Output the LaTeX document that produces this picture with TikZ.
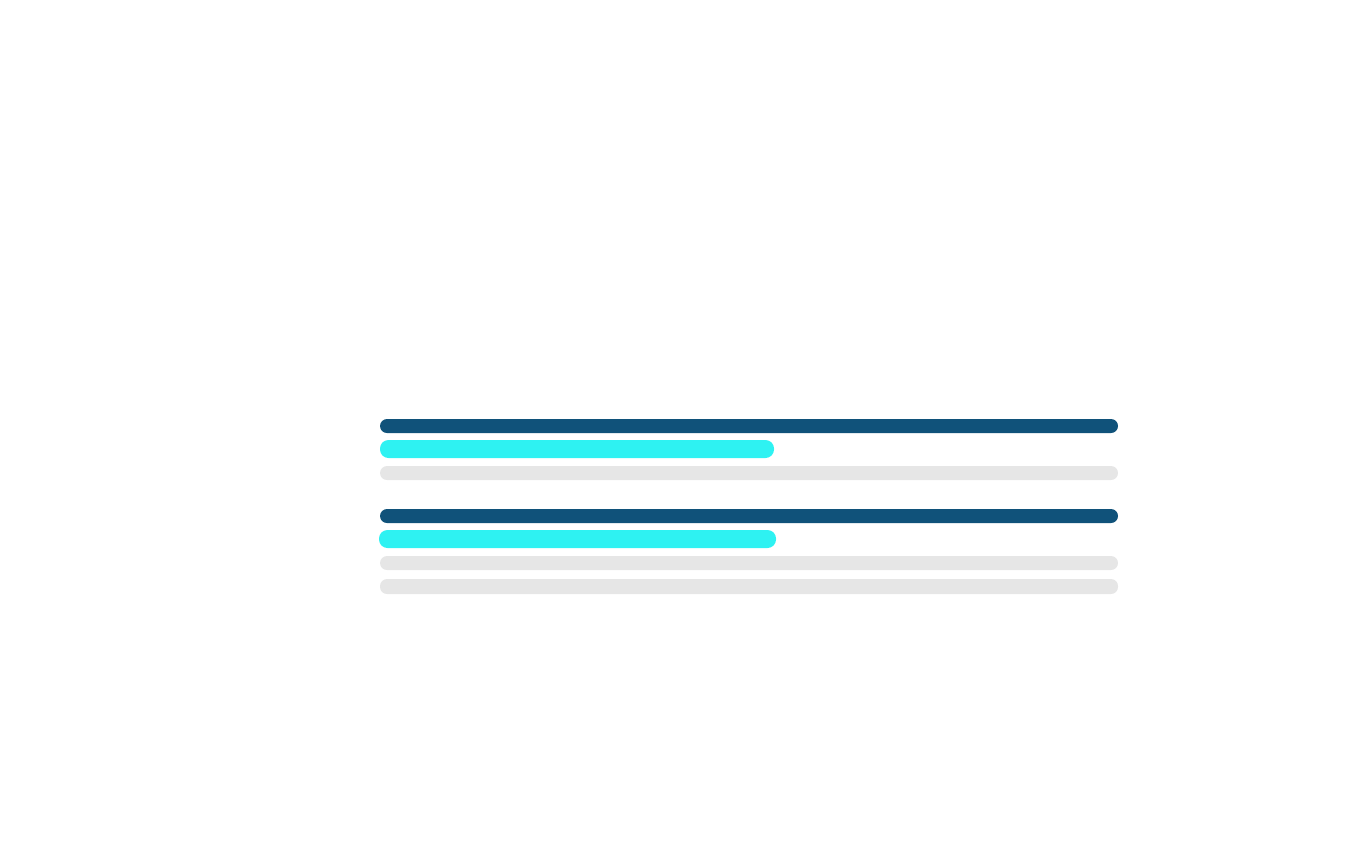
\documentclass[tikz,border=0pt]{standalone}
\usepackage{tikz}
\usetikzlibrary{positioning}
\definecolor{barblue}{HTML}{10527A}
\definecolor{barcyan}{HTML}{2EF2F2}
\definecolor{bargray}{HTML}{E6E6E6}
\tikzset{
	darkbar/.style = {fill=barblue, rounded corners=0.14cm},
	cyanbar/.style = {fill=barcyan, rounded corners=0.17cm},
	graybar/.style = {fill=bargray, rounded corners=0.14cm}
}
\begin{document}
\begin{tikzpicture}[x=0.02cm, y=-0.02cm]
		\useasboundingbox (0,0) rectangle (1349,860);
		\fill [darkbar] (380,419) rectangle (1118,433);
		\fill [cyanbar] (380,440) rectangle (774,458);
		\fill [graybar] (380,466) rectangle (1118,480);
		\fill [darkbar] (380,509) rectangle (1118,523);
		\fill [cyanbar] (379,530) rectangle (776,548);
		\fill [graybar] (380,556) rectangle (1118,570);
		\fill [graybar] (380,579) rectangle (1118,594);
\end{tikzpicture}
\end{document}
